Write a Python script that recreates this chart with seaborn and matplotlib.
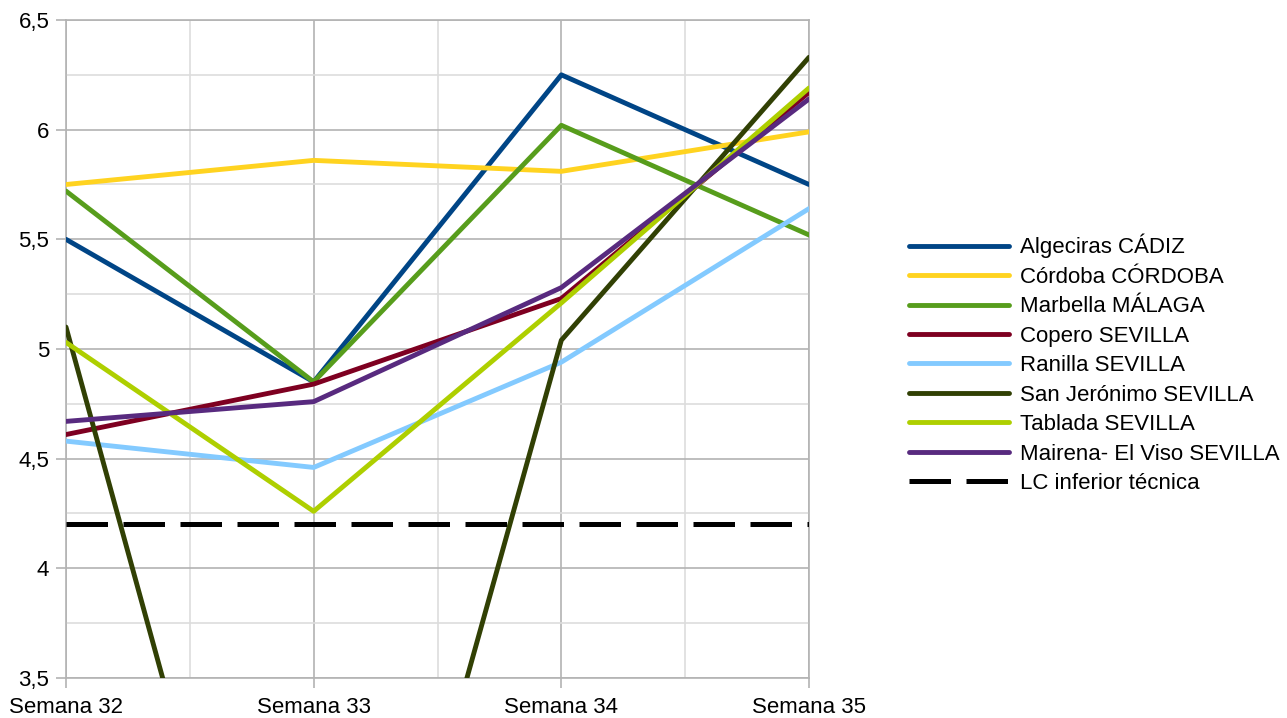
import pandas as pd
import numpy as np
import seaborn as sns
import matplotlib.pyplot as plt
from matplotlib.ticker import FuncFormatter, MultipleLocator


semanas = ['Semana 32', 'Semana 33', 'Semana 34', 'Semana 35']

algeciras = [5.50, 4.85, 6.25, 5.75]
cordoba = [5.75, 5.86, 5.81, 5.99]
marbella = [5.72, 4.85, 6.02, 5.52]
copero = [4.61, 4.84, 5.23, 6.17]
ranilla = [4.58, 4.46, 4.94, 5.64]
san_jeronimo = [5.10, 1.00, 5.04, 6.33]
tablada = [5.03, 4.26, 5.21, 6.19]
mairena = [4.67, 4.76, 5.28, 6.14]
lc_inferior = [4.2, 4.2, 4.2, 4.2]

series = {
    'Algeciras CÁDIZ': algeciras,
    'Córdoba CÓRDOBA': cordoba,
    'Marbella MÁLAGA': marbella,
    'Copero SEVILLA': copero,
    'Ranilla SEVILLA': ranilla,
    'San Jerónimo SEVILLA': san_jeronimo,
    'Tablada SEVILLA': tablada,
    'Mairena- El Viso SEVILLA': mairena,
    'LC inferior técnica': lc_inferior,
}
colores = ['#004586', '#ffd320', '#579d1c', '#7e0021', '#83caff',
           '#314004', '#aecf00', '#582a7f', '#000000']

sns.set_style('white')
plt.rcParams['font.family'] = ['Liberation Sans', 'DejaVu Sans']
plt.rcParams['text.color'] = 'black'
plt.rcParams['xtick.labelcolor'] = 'black'
plt.rcParams['ytick.labelcolor'] = 'black'

fig = plt.figure(figsize=(12.87, 7.18), dpi=100)
ax = fig.add_axes([66 / 1287, 1 - 678 / 718, (809 - 66) / 1287, (678 - 20) / 718])

for (nombre, valores), color in zip(series.items(), colores):
    df = pd.DataFrame({'x': np.arange(len(semanas)), 'y': valores})
    if nombre.startswith('LC'):
        sns.lineplot(data=df, x='x', y='y', ax=ax, color=color, linewidth=3.6,
                     linestyle=(0, (8.3, 3.1)), label=nombre, zorder=3)
    else:
        sns.lineplot(data=df, x='x', y='y', ax=ax, color=color, linewidth=3.5,
                     label=nombre, zorder=3)

ax.set_xlim(0, 3)
ax.set_ylim(3.5, 6.5)
ax.set_xticks(range(len(semanas)))
ax.set_xticklabels(semanas)
ax.xaxis.set_minor_locator(MultipleLocator(0.5))
ax.yaxis.set_major_locator(MultipleLocator(0.5))
ax.yaxis.set_minor_locator(MultipleLocator(0.25))
ax.yaxis.set_major_formatter(FuncFormatter(lambda v, p: ('%g' % v).replace('.', ',')))
ax.set_xlabel('')
ax.set_ylabel('')

ax.grid(which='major', color='#b3b3b3', linewidth=1.2, zorder=0)
ax.grid(which='minor', color='#dddddd', linewidth=1.2, zorder=0)
ax.tick_params(axis='both', which='major', labelsize=16, length=7, width=1.2,
               color='#b3b3b3', labelcolor='black', direction='out',
               left=True, bottom=True)
ax.tick_params(axis='x', which='major', pad=7)
ax.tick_params(axis='y', which='major', pad=5)
ax.tick_params(axis='both', which='minor', length=0)
for lado in ['left', 'bottom', 'right', 'top']:
    ax.spines[lado].set_color('#b3b3b3')
    ax.spines[lado].set_linewidth(1.2)

leg = ax.legend(loc='center left', bbox_to_anchor=(898 / 1287, 1 - 364 / 718),
                bbox_transform=fig.transFigure, frameon=False, fontsize=16,
                handlelength=4.5, handletextpad=0.5, labelspacing=0.38, borderpad=0)
for t in leg.get_texts():
    t.set_color('black')

plt.savefig('out.png', dpi=100)
